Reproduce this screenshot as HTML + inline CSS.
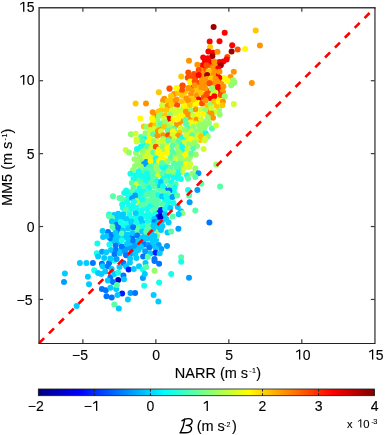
<!DOCTYPE html><html><head><meta charset="utf-8"><style>text{stroke:#000;stroke-width:0.12px;paint-order:stroke}html,body{margin:0;padding:0;background:#fff;width:385px;height:435px;overflow:hidden}</style></head><body><svg width="385" height="435" viewBox="0 0 385 435" style="position:absolute;left:0;top:0;will-change:transform;filter:blur(0.3px)">
<rect x="0" y="0" width="385" height="435" fill="#fff"/>
<g>
<circle cx="128.0" cy="198.0" r="3.0" fill="#14ffeb"/>
<circle cx="191.0" cy="94.0" r="3.0" fill="#ff9400"/>
<circle cx="157.0" cy="230.0" r="3.0" fill="#94ff6b"/>
<circle cx="136.0" cy="153.0" r="3.0" fill="#94ff6b"/>
<circle cx="209.0" cy="123.0" r="3.0" fill="#94ff6b"/>
<circle cx="111.0" cy="250.0" r="3.0" fill="#00ccff"/>
<circle cx="108.0" cy="232.0" r="3.0" fill="#0075ff"/>
<circle cx="131.0" cy="192.0" r="3.0" fill="#57ffa8"/>
<circle cx="185.0" cy="92.0" r="3.0" fill="#ffc700"/>
<circle cx="159.0" cy="189.0" r="3.0" fill="#57ffa8"/>
<circle cx="174.0" cy="192.0" r="3.0" fill="#14ffeb"/>
<circle cx="130.0" cy="248.0" r="3.0" fill="#009eff"/>
<circle cx="158.0" cy="200.0" r="3.0" fill="#57ffa8"/>
<circle cx="210.0" cy="98.0" r="3.0" fill="#ff0000"/>
<circle cx="219.0" cy="110.0" r="3.0" fill="#94ff6b"/>
<circle cx="171.0" cy="110.0" r="3.0" fill="#d1ff2e"/>
<circle cx="211.0" cy="93.0" r="3.0" fill="#d1ff2e"/>
<circle cx="181.0" cy="121.0" r="3.0" fill="#ff9400"/>
<circle cx="135.0" cy="166.0" r="3.0" fill="#94ff6b"/>
<circle cx="116.0" cy="250.0" r="3.0" fill="#0075ff"/>
<circle cx="142.0" cy="161.0" r="3.0" fill="#94ff6b"/>
<circle cx="182.0" cy="172.0" r="3.0" fill="#d1ff2e"/>
<circle cx="116.0" cy="224.0" r="3.0" fill="#0075ff"/>
<circle cx="162.0" cy="221.0" r="3.0" fill="#00ccff"/>
<circle cx="157.0" cy="120.0" r="3.0" fill="#94ff6b"/>
<circle cx="147.0" cy="201.0" r="3.0" fill="#57ffa8"/>
<circle cx="163.0" cy="178.0" r="3.0" fill="#14ffeb"/>
<circle cx="112.0" cy="241.0" r="3.0" fill="#00ccff"/>
<circle cx="141.0" cy="137.0" r="3.0" fill="#57ffa8"/>
<circle cx="114.0" cy="215.0" r="3.0" fill="#00ccff"/>
<circle cx="155.0" cy="198.0" r="3.0" fill="#57ffa8"/>
<circle cx="147.0" cy="166.0" r="3.0" fill="#57ffa8"/>
<circle cx="176.0" cy="155.0" r="3.0" fill="#94ff6b"/>
<circle cx="138.0" cy="179.0" r="3.0" fill="#57ffa8"/>
<circle cx="166.0" cy="144.0" r="3.0" fill="#d1ff2e"/>
<circle cx="122.0" cy="226.0" r="3.0" fill="#14ffeb"/>
<circle cx="144.0" cy="156.0" r="3.0" fill="#d1ff2e"/>
<circle cx="161.0" cy="167.0" r="3.0" fill="#14ffeb"/>
<circle cx="118.0" cy="242.0" r="3.0" fill="#00ccff"/>
<circle cx="184.0" cy="151.0" r="3.0" fill="#14ffeb"/>
<circle cx="144.0" cy="191.0" r="3.0" fill="#14ffeb"/>
<circle cx="137.0" cy="192.0" r="3.0" fill="#14ffeb"/>
<circle cx="166.0" cy="166.0" r="3.0" fill="#14ffeb"/>
<circle cx="165.0" cy="200.0" r="3.0" fill="#14ffeb"/>
<circle cx="178.0" cy="119.0" r="3.0" fill="#fffa00"/>
<circle cx="140.0" cy="204.0" r="3.0" fill="#57ffa8"/>
<circle cx="116.0" cy="219.0" r="3.0" fill="#00ccff"/>
<circle cx="161.0" cy="230.0" r="3.0" fill="#00ccff"/>
<circle cx="132.0" cy="237.0" r="3.0" fill="#0075ff"/>
<circle cx="224.0" cy="78.0" r="3.0" fill="#fffa00"/>
<circle cx="205.0" cy="69.0" r="3.0" fill="#ff4c00"/>
<circle cx="152.0" cy="157.0" r="3.0" fill="#d1ff2e"/>
<circle cx="190.0" cy="118.0" r="3.0" fill="#ff9400"/>
<circle cx="194.0" cy="74.0" r="3.0" fill="#ff4c00"/>
<circle cx="150.0" cy="192.0" r="3.0" fill="#57ffa8"/>
<circle cx="139.0" cy="197.0" r="3.0" fill="#14ffeb"/>
<circle cx="157.0" cy="209.0" r="3.0" fill="#57ffa8"/>
<circle cx="155.0" cy="162.0" r="3.0" fill="#14ffeb"/>
<circle cx="124.0" cy="237.0" r="3.0" fill="#00ccff"/>
<circle cx="205.0" cy="61.0" r="3.0" fill="#ff0000"/>
<circle cx="122.0" cy="218.0" r="3.0" fill="#00ccff"/>
<circle cx="163.0" cy="150.0" r="3.0" fill="#94ff6b"/>
<circle cx="151.0" cy="216.0" r="3.0" fill="#14ffeb"/>
<circle cx="204.0" cy="122.0" r="3.0" fill="#94ff6b"/>
<circle cx="119.0" cy="237.0" r="3.0" fill="#00ccff"/>
<circle cx="181.0" cy="154.0" r="3.0" fill="#94ff6b"/>
<circle cx="150.0" cy="236.0" r="3.0" fill="#00ccff"/>
<circle cx="153.0" cy="229.0" r="3.0" fill="#00ccff"/>
<circle cx="151.0" cy="144.0" r="3.0" fill="#d1ff2e"/>
<circle cx="200.0" cy="140.0" r="3.0" fill="#ffc700"/>
<circle cx="137.0" cy="217.0" r="3.0" fill="#14ffeb"/>
<circle cx="216.0" cy="65.0" r="3.0" fill="#ff9400"/>
<circle cx="207.0" cy="114.0" r="3.0" fill="#94ff6b"/>
<circle cx="187.0" cy="139.0" r="3.0" fill="#d1ff2e"/>
<circle cx="175.0" cy="125.0" r="3.0" fill="#ff9400"/>
<circle cx="123.0" cy="208.0" r="3.0" fill="#14ffeb"/>
<circle cx="184.0" cy="160.0" r="3.0" fill="#94ff6b"/>
<circle cx="200.0" cy="129.0" r="3.0" fill="#94ff6b"/>
<circle cx="219.0" cy="91.0" r="3.0" fill="#ff0000"/>
<circle cx="144.0" cy="145.0" r="3.0" fill="#14ffeb"/>
<circle cx="138.0" cy="245.0" r="3.0" fill="#00ccff"/>
<circle cx="130.0" cy="225.0" r="3.0" fill="#00ccff"/>
<circle cx="170.0" cy="175.0" r="3.0" fill="#14ffeb"/>
<circle cx="166.0" cy="189.0" r="3.0" fill="#0075ff"/>
<circle cx="218.0" cy="98.0" r="3.0" fill="#fffa00"/>
<circle cx="198.0" cy="83.0" r="3.0" fill="#ff4c00"/>
<circle cx="156.0" cy="240.0" r="3.0" fill="#00ccff"/>
<circle cx="145.0" cy="216.0" r="3.0" fill="#14ffeb"/>
<circle cx="143.0" cy="179.0" r="3.0" fill="#14ffeb"/>
<circle cx="145.0" cy="149.0" r="3.0" fill="#94ff6b"/>
<circle cx="136.0" cy="232.0" r="3.0" fill="#57ffa8"/>
<circle cx="151.0" cy="179.0" r="3.0" fill="#57ffa8"/>
<circle cx="206.0" cy="83.0" r="3.0" fill="#ff9400"/>
<circle cx="154.0" cy="169.0" r="3.0" fill="#94ff6b"/>
<circle cx="167.0" cy="206.0" r="3.0" fill="#14ffeb"/>
<circle cx="187.0" cy="108.0" r="3.0" fill="#fffa00"/>
<circle cx="159.0" cy="185.0" r="3.0" fill="#00ccff"/>
<circle cx="155.0" cy="115.0" r="3.0" fill="#ff9400"/>
<circle cx="171.0" cy="149.0" r="3.0" fill="#57ffa8"/>
<circle cx="177.0" cy="178.0" r="3.0" fill="#14ffeb"/>
<circle cx="181.0" cy="144.0" r="3.0" fill="#14ffeb"/>
<circle cx="130.0" cy="218.0" r="3.0" fill="#14ffeb"/>
<circle cx="176.0" cy="133.0" r="3.0" fill="#fffa00"/>
<circle cx="110.0" cy="238.0" r="3.0" fill="#0075ff"/>
<circle cx="210.0" cy="65.0" r="3.0" fill="#ff4c00"/>
<circle cx="159.0" cy="213.0" r="3.0" fill="#001aff"/>
<circle cx="180.0" cy="168.0" r="3.0" fill="#57ffa8"/>
<circle cx="192.0" cy="77.0" r="3.0" fill="#ff4c00"/>
<circle cx="177.0" cy="171.0" r="3.0" fill="#14ffeb"/>
<circle cx="209.0" cy="111.0" r="3.0" fill="#ff9400"/>
<circle cx="176.0" cy="144.0" r="3.0" fill="#94ff6b"/>
<circle cx="121.0" cy="250.0" r="3.0" fill="#00ccff"/>
<circle cx="124.0" cy="200.0" r="3.0" fill="#57ffa8"/>
<circle cx="133.0" cy="206.0" r="3.0" fill="#14ffeb"/>
<circle cx="217.0" cy="75.0" r="3.0" fill="#ff0000"/>
<circle cx="148.0" cy="184.0" r="3.0" fill="#57ffa8"/>
<circle cx="143.0" cy="241.0" r="3.0" fill="#00ccff"/>
<circle cx="143.0" cy="173.0" r="3.0" fill="#57ffa8"/>
<circle cx="127.0" cy="202.0" r="3.0" fill="#14ffeb"/>
<circle cx="162.0" cy="158.0" r="3.0" fill="#fffa00"/>
<circle cx="179.0" cy="113.0" r="3.0" fill="#d1ff2e"/>
<circle cx="199.0" cy="122.0" r="3.0" fill="#d1ff2e"/>
<circle cx="135.0" cy="250.0" r="3.0" fill="#00ccff"/>
<circle cx="192.0" cy="99.0" r="3.0" fill="#ffc700"/>
<circle cx="153.0" cy="206.0" r="3.0" fill="#14ffeb"/>
<circle cx="223.0" cy="92.0" r="3.0" fill="#ff9400"/>
<circle cx="185.0" cy="103.0" r="3.0" fill="#fffa00"/>
<circle cx="152.0" cy="195.0" r="3.0" fill="#57ffa8"/>
<circle cx="145.0" cy="176.0" r="3.0" fill="#14ffeb"/>
<circle cx="169.0" cy="199.0" r="3.0" fill="#14ffeb"/>
<circle cx="184.0" cy="115.0" r="3.0" fill="#fffa00"/>
<circle cx="159.0" cy="156.0" r="3.0" fill="#fffa00"/>
<circle cx="139.0" cy="226.0" r="3.0" fill="#57ffa8"/>
<circle cx="149.0" cy="176.0" r="3.0" fill="#14ffeb"/>
<circle cx="130.0" cy="242.0" r="3.0" fill="#00ccff"/>
<circle cx="115.0" cy="229.0" r="3.0" fill="#57ffa8"/>
<circle cx="149.0" cy="230.0" r="3.0" fill="#57ffa8"/>
<circle cx="139.0" cy="212.0" r="3.0" fill="#14ffeb"/>
<circle cx="171.0" cy="100.0" r="3.0" fill="#ffc700"/>
<circle cx="178.0" cy="162.0" r="3.0" fill="#57ffa8"/>
<circle cx="190.0" cy="157.0" r="3.0" fill="#94ff6b"/>
<circle cx="145.0" cy="236.0" r="3.0" fill="#00ccff"/>
<circle cx="215.0" cy="89.0" r="3.0" fill="#94ff6b"/>
<circle cx="159.0" cy="128.0" r="3.0" fill="#ff9400"/>
<circle cx="126.0" cy="248.0" r="3.0" fill="#009eff"/>
<circle cx="155.0" cy="173.0" r="3.0" fill="#57ffa8"/>
<circle cx="168.0" cy="125.0" r="3.0" fill="#94ff6b"/>
<circle cx="151.0" cy="220.0" r="3.0" fill="#14ffeb"/>
<circle cx="144.0" cy="164.0" r="3.0" fill="#009eff"/>
<circle cx="119.0" cy="231.0" r="3.0" fill="#0075ff"/>
<circle cx="170.0" cy="155.0" r="3.0" fill="#57ffa8"/>
<circle cx="187.0" cy="153.0" r="3.0" fill="#fffa00"/>
<circle cx="165.0" cy="175.0" r="3.0" fill="#14ffeb"/>
<circle cx="189.0" cy="134.0" r="3.0" fill="#d1ff2e"/>
<circle cx="174.0" cy="94.0" r="3.0" fill="#ff9400"/>
<circle cx="178.0" cy="93.0" r="3.0" fill="#ffc700"/>
<circle cx="193.0" cy="90.0" r="3.0" fill="#ff9400"/>
<circle cx="137.0" cy="149.0" r="3.0" fill="#14ffeb"/>
<circle cx="197.0" cy="146.0" r="3.0" fill="#94ff6b"/>
<circle cx="132.0" cy="198.0" r="3.0" fill="#009eff"/>
<circle cx="153.0" cy="122.0" r="3.0" fill="#fffa00"/>
<circle cx="182.0" cy="90.0" r="3.0" fill="#ff4c00"/>
<circle cx="208.0" cy="91.0" r="3.0" fill="#ff4c00"/>
<circle cx="128.0" cy="194.0" r="3.0" fill="#14ffeb"/>
<circle cx="107.0" cy="236.0" r="3.0" fill="#00ccff"/>
<circle cx="206.0" cy="125.0" r="3.0" fill="#94ff6b"/>
<circle cx="150.0" cy="203.0" r="3.0" fill="#57ffa8"/>
<circle cx="159.0" cy="227.0" r="3.0" fill="#00ccff"/>
<circle cx="154.0" cy="202.0" r="3.0" fill="#57ffa8"/>
<circle cx="112.0" cy="218.0" r="3.0" fill="#57ffa8"/>
<circle cx="144.0" cy="196.0" r="3.0" fill="#57ffa8"/>
<circle cx="149.0" cy="169.0" r="3.0" fill="#57ffa8"/>
<circle cx="171.0" cy="96.0" r="3.0" fill="#ffc700"/>
<circle cx="213.6" cy="27.1" r="3.0" fill="#9e0000"/>
<circle cx="224.7" cy="32.8" r="3.0" fill="#ff0000"/>
<circle cx="209.7" cy="41.6" r="3.0" fill="#ff0000"/>
<circle cx="219.5" cy="41.3" r="3.0" fill="#ff0000"/>
<circle cx="232.2" cy="45.2" r="3.0" fill="#ff0000"/>
<circle cx="231.6" cy="51.4" r="3.0" fill="#9e0000"/>
<circle cx="237.7" cy="49.4" r="3.0" fill="#ff4c00"/>
<circle cx="245.2" cy="49.1" r="3.0" fill="#fffa00"/>
<circle cx="210.1" cy="47.1" r="3.0" fill="#ffc700"/>
<circle cx="208.4" cy="51.4" r="3.0" fill="#ff0000"/>
<circle cx="213.0" cy="52.7" r="3.0" fill="#ff0000"/>
<circle cx="217.5" cy="51.7" r="3.0" fill="#ff9400"/>
<circle cx="212.3" cy="56.2" r="3.0" fill="#9e0000"/>
<circle cx="203.2" cy="57.5" r="3.0" fill="#ff0000"/>
<circle cx="207.8" cy="58.2" r="3.0" fill="#ff0000"/>
<circle cx="209.1" cy="61.4" r="3.0" fill="#ff0000"/>
<circle cx="227.3" cy="56.9" r="3.0" fill="#ff4c00"/>
<circle cx="226.6" cy="59.5" r="3.0" fill="#ff0000"/>
<circle cx="223.4" cy="61.4" r="3.0" fill="#ff0000"/>
<circle cx="219.5" cy="62.1" r="3.0" fill="#ff0000"/>
<circle cx="214.3" cy="61.4" r="3.0" fill="#ff9400"/>
<circle cx="220.8" cy="65.3" r="3.0" fill="#9e0000"/>
<circle cx="202.6" cy="65.3" r="3.0" fill="#ff0000"/>
<circle cx="206.5" cy="65.3" r="3.0" fill="#ff4c00"/>
<circle cx="213.0" cy="67.3" r="3.0" fill="#ff9400"/>
<circle cx="218.2" cy="68.6" r="3.0" fill="#ff0000"/>
<circle cx="200.6" cy="69.9" r="3.0" fill="#ff9400"/>
<circle cx="208.4" cy="71.2" r="3.0" fill="#ffc700"/>
<circle cx="214.3" cy="71.2" r="3.0" fill="#ff9400"/>
<circle cx="219.5" cy="71.8" r="3.0" fill="#ff9400"/>
<circle cx="233.8" cy="71.8" r="3.0" fill="#ff9400"/>
<circle cx="203.2" cy="74.4" r="3.0" fill="#ff9400"/>
<circle cx="207.1" cy="75.1" r="3.0" fill="#9e0000"/>
<circle cx="213.0" cy="75.1" r="3.0" fill="#ff9400"/>
<circle cx="219.2" cy="77.7" r="3.0" fill="#ff0000"/>
<circle cx="230.5" cy="77.0" r="3.0" fill="#ff9400"/>
<circle cx="227.3" cy="80.3" r="3.0" fill="#fffa00"/>
<circle cx="233.1" cy="80.3" r="3.0" fill="#94ff6b"/>
<circle cx="231.8" cy="83.5" r="3.0" fill="#94ff6b"/>
<circle cx="234.4" cy="82.2" r="3.0" fill="#94ff6b"/>
<circle cx="201.9" cy="79.0" r="3.0" fill="#ff9400"/>
<circle cx="207.1" cy="79.0" r="3.0" fill="#ff9400"/>
<circle cx="211.0" cy="78.3" r="3.0" fill="#ffc700"/>
<circle cx="215.6" cy="79.0" r="3.0" fill="#ff9400"/>
<circle cx="202.6" cy="84.2" r="3.0" fill="#ff9400"/>
<circle cx="209.7" cy="83.5" r="3.0" fill="#ff4c00"/>
<circle cx="214.3" cy="83.5" r="3.0" fill="#ff9400"/>
<circle cx="218.8" cy="82.2" r="3.0" fill="#ff4c00"/>
<circle cx="220.8" cy="84.8" r="3.0" fill="#fffa00"/>
<circle cx="203.9" cy="88.1" r="3.0" fill="#ff9400"/>
<circle cx="211.7" cy="88.1" r="3.0" fill="#d1ff2e"/>
<circle cx="218.2" cy="87.4" r="3.0" fill="#ff0000"/>
<circle cx="222.1" cy="88.7" r="3.0" fill="#ff9400"/>
<circle cx="189.0" cy="60.8" r="3.0" fill="#ff9400"/>
<circle cx="197.4" cy="64.7" r="3.0" fill="#ff9400"/>
<circle cx="198.7" cy="69.9" r="3.0" fill="#ff4c00"/>
<circle cx="188.3" cy="72.5" r="3.0" fill="#ff4c00"/>
<circle cx="181.2" cy="76.6" r="3.0" fill="#ffc700"/>
<circle cx="187.7" cy="77.7" r="3.0" fill="#ff4c00"/>
<circle cx="195.5" cy="77.7" r="3.0" fill="#ff4c00"/>
<circle cx="198.7" cy="75.1" r="3.0" fill="#ff0000"/>
<circle cx="190.3" cy="81.6" r="3.0" fill="#fffa00"/>
<circle cx="193.5" cy="84.8" r="3.0" fill="#ff0000"/>
<circle cx="182.5" cy="85.5" r="3.0" fill="#ff4c00"/>
<circle cx="169.5" cy="88.3" r="3.0" fill="#ff9400"/>
<circle cx="176.6" cy="88.1" r="3.0" fill="#fffa00"/>
<circle cx="188.3" cy="88.1" r="3.0" fill="#ff9400"/>
<circle cx="196.8" cy="87.4" r="3.0" fill="#ffc700"/>
<circle cx="169.5" cy="88.8" r="3.0" fill="#ff4c00"/>
<circle cx="176.6" cy="88.1" r="3.0" fill="#fffa00"/>
<circle cx="182.5" cy="85.8" r="3.0" fill="#ff4c00"/>
<circle cx="190.3" cy="82.6" r="3.0" fill="#fffa00"/>
<circle cx="189.0" cy="88.4" r="3.0" fill="#ff9400"/>
<circle cx="194.8" cy="81.3" r="3.0" fill="#ff4c00"/>
<circle cx="194.8" cy="85.2" r="3.0" fill="#ff9400"/>
<circle cx="197.4" cy="90.4" r="3.0" fill="#ffc700"/>
<circle cx="158.8" cy="92.3" r="3.0" fill="#ffc700"/>
<circle cx="164.3" cy="98.8" r="3.0" fill="#ff9400"/>
<circle cx="176.6" cy="99.5" r="3.0" fill="#ff9400"/>
<circle cx="181.8" cy="95.6" r="3.0" fill="#ffc700"/>
<circle cx="186.4" cy="98.2" r="3.0" fill="#ff9400"/>
<circle cx="196.8" cy="95.6" r="3.0" fill="#ff9400"/>
<circle cx="198.7" cy="99.5" r="3.0" fill="#ff0000"/>
<circle cx="201.9" cy="82.6" r="3.0" fill="#ff9400"/>
<circle cx="209.7" cy="83.2" r="3.0" fill="#ff4c00"/>
<circle cx="216.9" cy="81.3" r="3.0" fill="#ff9400"/>
<circle cx="221.4" cy="83.9" r="3.0" fill="#ff9400"/>
<circle cx="227.3" cy="81.3" r="3.0" fill="#fffa00"/>
<circle cx="233.1" cy="83.2" r="3.0" fill="#94ff6b"/>
<circle cx="231.2" cy="85.2" r="3.0" fill="#94ff6b"/>
<circle cx="201.3" cy="87.8" r="3.0" fill="#ff9400"/>
<circle cx="205.2" cy="88.4" r="3.0" fill="#ff9400"/>
<circle cx="211.7" cy="88.4" r="3.0" fill="#94ff6b"/>
<circle cx="218.2" cy="87.1" r="3.0" fill="#ff0000"/>
<circle cx="223.4" cy="86.5" r="3.0" fill="#ff9400"/>
<circle cx="201.3" cy="93.6" r="3.0" fill="#ffc700"/>
<circle cx="206.5" cy="94.3" r="3.0" fill="#ff4c00"/>
<circle cx="203.9" cy="97.5" r="3.0" fill="#ff4c00"/>
<circle cx="215.6" cy="93.0" r="3.0" fill="#d1ff2e"/>
<circle cx="214.3" cy="96.2" r="3.0" fill="#ff0000"/>
<circle cx="220.8" cy="94.9" r="3.0" fill="#ff4c00"/>
<circle cx="224.7" cy="96.2" r="3.0" fill="#94ff6b"/>
<circle cx="255.7" cy="30.6" r="3.0" fill="#ffc700"/>
<circle cx="259.9" cy="45.4" r="3.0" fill="#ff9400"/>
<circle cx="251.8" cy="83.1" r="3.0" fill="#ff9400"/>
<circle cx="113.0" cy="196.2" r="3.0" fill="#57ffa8"/>
<circle cx="119.5" cy="198.1" r="3.0" fill="#57ffa8"/>
<circle cx="118.2" cy="213.7" r="3.0" fill="#00ccff"/>
<circle cx="109.1" cy="214.4" r="3.0" fill="#14ffeb"/>
<circle cx="204.5" cy="140.3" r="3.0" fill="#d1ff2e"/>
<circle cx="203.6" cy="149.0" r="3.0" fill="#d1ff2e"/>
<circle cx="216.2" cy="164.4" r="3.0" fill="#94ff6b"/>
<circle cx="201.3" cy="183.8" r="3.0" fill="#57ffa8"/>
<circle cx="220.1" cy="186.4" r="3.0" fill="#57ffa8"/>
<circle cx="97.4" cy="243.6" r="3.0" fill="#14ffeb"/>
<circle cx="96.8" cy="253.3" r="3.0" fill="#14ffeb"/>
<circle cx="98.1" cy="256.6" r="3.0" fill="#00ccff"/>
<circle cx="79.9" cy="263.1" r="3.0" fill="#00ccff"/>
<circle cx="86.4" cy="263.1" r="3.0" fill="#00ccff"/>
<circle cx="92.9" cy="263.1" r="3.0" fill="#0075ff"/>
<circle cx="109.1" cy="216.3" r="3.0" fill="#57ffa8"/>
<circle cx="118.2" cy="215.6" r="3.0" fill="#00ccff"/>
<circle cx="101.9" cy="263.7" r="3.0" fill="#0075ff"/>
<circle cx="109.1" cy="263.1" r="3.0" fill="#0075ff"/>
<circle cx="114.3" cy="260.5" r="3.0" fill="#14ffeb"/>
<circle cx="123.4" cy="263.1" r="3.0" fill="#0075ff"/>
<circle cx="129.9" cy="262.4" r="3.0" fill="#00ccff"/>
<circle cx="145.5" cy="263.1" r="3.0" fill="#00ccff"/>
<circle cx="64.9" cy="273.4" r="3.0" fill="#00ccff"/>
<circle cx="64.0" cy="281.9" r="3.0" fill="#009eff"/>
<circle cx="87.9" cy="276.7" r="3.0" fill="#00ccff"/>
<circle cx="89.0" cy="284.2" r="3.0" fill="#00ccff"/>
<circle cx="76.6" cy="305.9" r="3.0" fill="#00ccff"/>
<circle cx="94.2" cy="270.2" r="3.0" fill="#14ffeb"/>
<circle cx="98.1" cy="273.1" r="3.0" fill="#00ccff"/>
<circle cx="102.6" cy="266.3" r="3.0" fill="#00ccff"/>
<circle cx="107.8" cy="266.3" r="3.0" fill="#0075ff"/>
<circle cx="111.7" cy="268.9" r="3.0" fill="#00ccff"/>
<circle cx="119.5" cy="266.9" r="3.0" fill="#00ccff"/>
<circle cx="126.0" cy="266.3" r="3.0" fill="#00ccff"/>
<circle cx="128.6" cy="269.5" r="3.0" fill="#001aff"/>
<circle cx="133.8" cy="268.9" r="3.0" fill="#00ccff"/>
<circle cx="139.0" cy="266.3" r="3.0" fill="#00ccff"/>
<circle cx="142.9" cy="269.5" r="3.0" fill="#14ffeb"/>
<circle cx="146.1" cy="266.9" r="3.0" fill="#57ffa8"/>
<circle cx="101.3" cy="274.1" r="3.0" fill="#00ccff"/>
<circle cx="105.2" cy="271.5" r="3.0" fill="#00ccff"/>
<circle cx="110.4" cy="277.3" r="3.0" fill="#0075ff"/>
<circle cx="114.3" cy="274.1" r="3.0" fill="#00ccff"/>
<circle cx="118.2" cy="272.8" r="3.0" fill="#14ffeb"/>
<circle cx="123.4" cy="275.4" r="3.0" fill="#0075ff"/>
<circle cx="118.2" cy="279.9" r="3.0" fill="#0000bd"/>
<circle cx="124.0" cy="279.3" r="3.0" fill="#00ccff"/>
<circle cx="107.8" cy="280.6" r="3.0" fill="#00ccff"/>
<circle cx="113.0" cy="281.9" r="3.0" fill="#0075ff"/>
<circle cx="142.9" cy="278.0" r="3.0" fill="#009eff"/>
<circle cx="144.8" cy="274.1" r="3.0" fill="#00ccff"/>
<circle cx="144.2" cy="285.8" r="3.0" fill="#14ffeb"/>
<circle cx="101.9" cy="289.0" r="3.0" fill="#0075ff"/>
<circle cx="105.8" cy="290.3" r="3.0" fill="#0075ff"/>
<circle cx="110.4" cy="287.7" r="3.0" fill="#00ccff"/>
<circle cx="116.2" cy="289.0" r="3.0" fill="#00ccff"/>
<circle cx="116.9" cy="285.1" r="3.0" fill="#57ffa8"/>
<circle cx="122.1" cy="293.6" r="3.0" fill="#001aff"/>
<circle cx="117.5" cy="294.9" r="3.0" fill="#00ccff"/>
<circle cx="130.5" cy="292.9" r="3.0" fill="#009eff"/>
<circle cx="135.1" cy="292.9" r="3.0" fill="#0075ff"/>
<circle cx="106.5" cy="296.2" r="3.0" fill="#0075ff"/>
<circle cx="111.7" cy="297.5" r="3.0" fill="#0075ff"/>
<circle cx="127.9" cy="299.4" r="3.0" fill="#00ccff"/>
<circle cx="114.3" cy="304.6" r="3.0" fill="#57ffa8"/>
<circle cx="118.8" cy="308.5" r="3.0" fill="#00ccff"/>
<circle cx="181.2" cy="257.2" r="3.0" fill="#57ffa8"/>
<circle cx="181.2" cy="261.8" r="3.0" fill="#14ffeb"/>
<circle cx="154.5" cy="261.1" r="3.0" fill="#0075ff"/>
<circle cx="159.1" cy="263.7" r="3.0" fill="#0075ff"/>
<circle cx="209.4" cy="222.4" r="3.0" fill="#0075ff"/>
<circle cx="154.5" cy="270.8" r="3.0" fill="#94ff6b"/>
<circle cx="171.2" cy="274.1" r="3.0" fill="#14ffeb"/>
<circle cx="189.0" cy="277.7" r="3.0" fill="#009eff"/>
<circle cx="159.1" cy="282.5" r="3.0" fill="#14ffeb"/>
<circle cx="153.6" cy="294.9" r="3.0" fill="#00ccff"/>
<circle cx="158.4" cy="301.4" r="3.0" fill="#00ccff"/>
<circle cx="135.6" cy="103.6" r="3.0" fill="#ffc700"/>
<circle cx="146.0" cy="103.4" r="3.0" fill="#ff9400"/>
<circle cx="152.7" cy="112.3" r="3.0" fill="#ff9400"/>
<circle cx="158.4" cy="111.4" r="3.0" fill="#ffc700"/>
<circle cx="159.0" cy="116.1" r="3.0" fill="#94ff6b"/>
<circle cx="140.3" cy="118.5" r="3.0" fill="#fffa00"/>
<circle cx="152.2" cy="118.2" r="3.0" fill="#fffa00"/>
<circle cx="143.9" cy="126.5" r="3.0" fill="#ffc700"/>
<circle cx="146.5" cy="126.8" r="3.0" fill="#94ff6b"/>
<circle cx="151.2" cy="125.5" r="3.0" fill="#ff9400"/>
<circle cx="155.3" cy="125.5" r="3.0" fill="#ffc700"/>
<circle cx="158.4" cy="124.4" r="3.0" fill="#94ff6b"/>
<circle cx="150.1" cy="130.1" r="3.0" fill="#d1ff2e"/>
<circle cx="154.3" cy="129.1" r="3.0" fill="#d1ff2e"/>
<circle cx="157.9" cy="131.2" r="3.0" fill="#ff9400"/>
<circle cx="130.9" cy="134.3" r="3.0" fill="#94ff6b"/>
<circle cx="135.6" cy="133.8" r="3.0" fill="#d1ff2e"/>
<circle cx="145.5" cy="133.2" r="3.0" fill="#94ff6b"/>
<circle cx="150.1" cy="134.8" r="3.0" fill="#d1ff2e"/>
<circle cx="153.2" cy="134.3" r="3.0" fill="#57ffa8"/>
<circle cx="157.4" cy="135.8" r="3.0" fill="#ff9400"/>
<circle cx="144.9" cy="139.0" r="3.0" fill="#14ffeb"/>
<circle cx="150.1" cy="139.0" r="3.0" fill="#fffa00"/>
<circle cx="136.6" cy="139.5" r="3.0" fill="#d1ff2e"/>
<circle cx="163.1" cy="100.5" r="3.0" fill="#ff9400"/>
<circle cx="167.8" cy="101.0" r="3.0" fill="#ffc700"/>
<circle cx="175.6" cy="100.5" r="3.0" fill="#ff9400"/>
<circle cx="181.8" cy="101.6" r="3.0" fill="#ffc700"/>
<circle cx="188.1" cy="100.5" r="3.0" fill="#ff9400"/>
<circle cx="194.3" cy="101.6" r="3.0" fill="#ffc700"/>
<circle cx="198.4" cy="103.1" r="3.0" fill="#fffa00"/>
<circle cx="162.1" cy="105.2" r="3.0" fill="#d1ff2e"/>
<circle cx="167.8" cy="105.7" r="3.0" fill="#ff9400"/>
<circle cx="171.4" cy="104.7" r="3.0" fill="#ffc700"/>
<circle cx="177.1" cy="105.2" r="3.0" fill="#ff4c00"/>
<circle cx="183.9" cy="106.2" r="3.0" fill="#fffa00"/>
<circle cx="190.1" cy="105.2" r="3.0" fill="#ffc700"/>
<circle cx="195.3" cy="104.7" r="3.0" fill="#fffa00"/>
<circle cx="161.0" cy="110.4" r="3.0" fill="#ffc700"/>
<circle cx="166.2" cy="109.9" r="3.0" fill="#ffc700"/>
<circle cx="175.6" cy="109.9" r="3.0" fill="#d1ff2e"/>
<circle cx="180.8" cy="109.4" r="3.0" fill="#d1ff2e"/>
<circle cx="186.0" cy="111.4" r="3.0" fill="#ff9400"/>
<circle cx="191.2" cy="110.4" r="3.0" fill="#94ff6b"/>
<circle cx="195.8" cy="109.4" r="3.0" fill="#ff9400"/>
<circle cx="161.0" cy="115.1" r="3.0" fill="#94ff6b"/>
<circle cx="165.2" cy="115.6" r="3.0" fill="#ffc700"/>
<circle cx="170.4" cy="114.5" r="3.0" fill="#94ff6b"/>
<circle cx="175.6" cy="113.5" r="3.0" fill="#d1ff2e"/>
<circle cx="180.8" cy="116.1" r="3.0" fill="#fffa00"/>
<circle cx="188.1" cy="114.5" r="3.0" fill="#ff9400"/>
<circle cx="193.2" cy="115.6" r="3.0" fill="#d1ff2e"/>
<circle cx="197.9" cy="114.5" r="3.0" fill="#fffa00"/>
<circle cx="168.8" cy="118.7" r="3.0" fill="#ff0000"/>
<circle cx="164.2" cy="119.2" r="3.0" fill="#d1ff2e"/>
<circle cx="173.5" cy="119.2" r="3.0" fill="#fffa00"/>
<circle cx="185.5" cy="119.7" r="3.0" fill="#57ffa8"/>
<circle cx="191.2" cy="122.3" r="3.0" fill="#fffa00"/>
<circle cx="196.4" cy="119.7" r="3.0" fill="#ff9400"/>
<circle cx="161.0" cy="123.4" r="3.0" fill="#57ffa8"/>
<circle cx="165.2" cy="122.3" r="3.0" fill="#94ff6b"/>
<circle cx="171.4" cy="123.9" r="3.0" fill="#d1ff2e"/>
<circle cx="178.7" cy="124.9" r="3.0" fill="#ff9400"/>
<circle cx="186.0" cy="123.9" r="3.0" fill="#57ffa8"/>
<circle cx="195.3" cy="123.4" r="3.0" fill="#fffa00"/>
<circle cx="199.0" cy="125.5" r="3.0" fill="#94ff6b"/>
<circle cx="164.2" cy="127.0" r="3.0" fill="#ffc700"/>
<circle cx="169.4" cy="128.1" r="3.0" fill="#94ff6b"/>
<circle cx="174.0" cy="129.1" r="3.0" fill="#57ffa8"/>
<circle cx="180.8" cy="128.1" r="3.0" fill="#d1ff2e"/>
<circle cx="188.1" cy="128.1" r="3.0" fill="#57ffa8"/>
<circle cx="193.2" cy="127.0" r="3.0" fill="#94ff6b"/>
<circle cx="161.0" cy="131.2" r="3.0" fill="#d1ff2e"/>
<circle cx="167.8" cy="130.6" r="3.0" fill="#57ffa8"/>
<circle cx="173.0" cy="131.2" r="3.0" fill="#fffa00"/>
<circle cx="179.7" cy="132.7" r="3.0" fill="#ffc700"/>
<circle cx="184.9" cy="130.1" r="3.0" fill="#94ff6b"/>
<circle cx="191.2" cy="131.2" r="3.0" fill="#d1ff2e"/>
<circle cx="196.9" cy="131.2" r="3.0" fill="#94ff6b"/>
<circle cx="163.1" cy="135.3" r="3.0" fill="#ff9400"/>
<circle cx="168.3" cy="135.3" r="3.0" fill="#ff4c00"/>
<circle cx="172.5" cy="135.3" r="3.0" fill="#d1ff2e"/>
<circle cx="178.2" cy="135.8" r="3.0" fill="#ff9400"/>
<circle cx="182.3" cy="137.4" r="3.0" fill="#14ffeb"/>
<circle cx="186.0" cy="135.3" r="3.0" fill="#d1ff2e"/>
<circle cx="192.2" cy="135.3" r="3.0" fill="#57ffa8"/>
<circle cx="197.9" cy="135.3" r="3.0" fill="#d1ff2e"/>
<circle cx="163.1" cy="139.0" r="3.0" fill="#94ff6b"/>
<circle cx="169.4" cy="139.0" r="3.0" fill="#ff9400"/>
<circle cx="174.5" cy="139.0" r="3.0" fill="#d1ff2e"/>
<circle cx="191.2" cy="139.0" r="3.0" fill="#fffa00"/>
<circle cx="196.4" cy="139.0" r="3.0" fill="#d1ff2e"/>
<circle cx="202.1" cy="103.6" r="3.0" fill="#ff4c00"/>
<circle cx="205.7" cy="100.5" r="3.0" fill="#ff9400"/>
<circle cx="207.3" cy="106.2" r="3.0" fill="#ffc700"/>
<circle cx="210.4" cy="104.2" r="3.0" fill="#94ff6b"/>
<circle cx="214.0" cy="101.6" r="3.0" fill="#ffc700"/>
<circle cx="216.6" cy="105.7" r="3.0" fill="#ffc700"/>
<circle cx="218.7" cy="101.6" r="3.0" fill="#fffa00"/>
<circle cx="222.9" cy="101.6" r="3.0" fill="#ff9400"/>
<circle cx="222.3" cy="105.2" r="3.0" fill="#ffc700"/>
<circle cx="233.8" cy="103.9" r="3.0" fill="#d1ff2e"/>
<circle cx="201.0" cy="109.4" r="3.0" fill="#d1ff2e"/>
<circle cx="205.2" cy="109.9" r="3.0" fill="#94ff6b"/>
<circle cx="211.4" cy="108.3" r="3.0" fill="#d1ff2e"/>
<circle cx="214.5" cy="111.9" r="3.0" fill="#d1ff2e"/>
<circle cx="211.4" cy="113.5" r="3.0" fill="#ff9400"/>
<circle cx="213.0" cy="117.7" r="3.0" fill="#ff9400"/>
<circle cx="219.7" cy="114.5" r="3.0" fill="#94ff6b"/>
<circle cx="203.1" cy="114.0" r="3.0" fill="#fffa00"/>
<circle cx="207.8" cy="117.7" r="3.0" fill="#94ff6b"/>
<circle cx="201.0" cy="119.2" r="3.0" fill="#d1ff2e"/>
<circle cx="201.6" cy="124.9" r="3.0" fill="#94ff6b"/>
<circle cx="204.2" cy="128.1" r="3.0" fill="#94ff6b"/>
<circle cx="211.9" cy="128.6" r="3.0" fill="#57ffa8"/>
<circle cx="216.1" cy="125.5" r="3.0" fill="#d1ff2e"/>
<circle cx="202.1" cy="133.2" r="3.0" fill="#94ff6b"/>
<circle cx="205.7" cy="133.2" r="3.0" fill="#14ffeb"/>
<circle cx="207.8" cy="136.4" r="3.0" fill="#94ff6b"/>
<circle cx="201.0" cy="136.4" r="3.0" fill="#ffc700"/>
<circle cx="205.2" cy="139.0" r="3.0" fill="#d1ff2e"/>
<circle cx="136.6" cy="141.6" r="3.0" fill="#d1ff2e"/>
<circle cx="142.3" cy="141.0" r="3.0" fill="#57ffa8"/>
<circle cx="148.1" cy="141.6" r="3.0" fill="#fffa00"/>
<circle cx="154.3" cy="141.0" r="3.0" fill="#94ff6b"/>
<circle cx="158.4" cy="142.1" r="3.0" fill="#d1ff2e"/>
<circle cx="140.8" cy="146.8" r="3.0" fill="#14ffeb"/>
<circle cx="147.5" cy="146.2" r="3.0" fill="#57ffa8"/>
<circle cx="151.2" cy="147.8" r="3.0" fill="#d1ff2e"/>
<circle cx="155.8" cy="146.8" r="3.0" fill="#ff4c00"/>
<circle cx="159.0" cy="149.4" r="3.0" fill="#fffa00"/>
<circle cx="125.7" cy="149.9" r="3.0" fill="#d1ff2e"/>
<circle cx="128.8" cy="152.5" r="3.0" fill="#94ff6b"/>
<circle cx="142.3" cy="151.4" r="3.0" fill="#94ff6b"/>
<circle cx="148.1" cy="151.9" r="3.0" fill="#d1ff2e"/>
<circle cx="153.2" cy="152.5" r="3.0" fill="#57ffa8"/>
<circle cx="157.4" cy="153.0" r="3.0" fill="#fffa00"/>
<circle cx="134.5" cy="159.2" r="3.0" fill="#94ff6b"/>
<circle cx="139.7" cy="157.1" r="3.0" fill="#94ff6b"/>
<circle cx="137.7" cy="162.3" r="3.0" fill="#94ff6b"/>
<circle cx="146.5" cy="161.8" r="3.0" fill="#009eff"/>
<circle cx="148.1" cy="156.6" r="3.0" fill="#d1ff2e"/>
<circle cx="150.6" cy="161.3" r="3.0" fill="#fffa00"/>
<circle cx="155.8" cy="158.2" r="3.0" fill="#14ffeb"/>
<circle cx="159.0" cy="160.8" r="3.0" fill="#fffa00"/>
<circle cx="140.8" cy="166.5" r="3.0" fill="#94ff6b"/>
<circle cx="151.2" cy="166.5" r="3.0" fill="#57ffa8"/>
<circle cx="156.4" cy="166.0" r="3.0" fill="#94ff6b"/>
<circle cx="133.0" cy="170.1" r="3.0" fill="#94ff6b"/>
<circle cx="138.7" cy="171.2" r="3.0" fill="#14ffeb"/>
<circle cx="144.9" cy="170.1" r="3.0" fill="#57ffa8"/>
<circle cx="151.2" cy="172.2" r="3.0" fill="#57ffa8"/>
<circle cx="157.4" cy="170.1" r="3.0" fill="#94ff6b"/>
<circle cx="130.4" cy="173.8" r="3.0" fill="#14ffeb"/>
<circle cx="135.6" cy="175.3" r="3.0" fill="#14ffeb"/>
<circle cx="140.8" cy="175.8" r="3.0" fill="#14ffeb"/>
<circle cx="147.0" cy="173.2" r="3.0" fill="#14ffeb"/>
<circle cx="153.2" cy="175.8" r="3.0" fill="#57ffa8"/>
<circle cx="158.4" cy="175.3" r="3.0" fill="#d1ff2e"/>
<circle cx="133.5" cy="179.0" r="3.0" fill="#14ffeb"/>
<circle cx="147.0" cy="179.0" r="3.0" fill="#14ffeb"/>
<circle cx="155.3" cy="179.5" r="3.0" fill="#57ffa8"/>
<circle cx="163.1" cy="141.0" r="3.0" fill="#d1ff2e"/>
<circle cx="168.3" cy="140.5" r="3.0" fill="#57ffa8"/>
<circle cx="173.5" cy="141.6" r="3.0" fill="#94ff6b"/>
<circle cx="178.7" cy="141.0" r="3.0" fill="#57ffa8"/>
<circle cx="184.9" cy="142.1" r="3.0" fill="#d1ff2e"/>
<circle cx="189.1" cy="144.2" r="3.0" fill="#94ff6b"/>
<circle cx="194.3" cy="143.1" r="3.0" fill="#94ff6b"/>
<circle cx="162.1" cy="146.2" r="3.0" fill="#94ff6b"/>
<circle cx="167.3" cy="148.3" r="3.0" fill="#fffa00"/>
<circle cx="172.5" cy="145.7" r="3.0" fill="#57ffa8"/>
<circle cx="177.7" cy="147.3" r="3.0" fill="#94ff6b"/>
<circle cx="182.3" cy="147.3" r="3.0" fill="#14ffeb"/>
<circle cx="187.5" cy="148.8" r="3.0" fill="#d1ff2e"/>
<circle cx="193.2" cy="148.3" r="3.0" fill="#57ffa8"/>
<circle cx="162.1" cy="154.5" r="3.0" fill="#fffa00"/>
<circle cx="166.8" cy="153.5" r="3.0" fill="#fffa00"/>
<circle cx="173.0" cy="151.9" r="3.0" fill="#57ffa8"/>
<circle cx="178.2" cy="151.4" r="3.0" fill="#94ff6b"/>
<circle cx="184.9" cy="155.6" r="3.0" fill="#fffa00"/>
<circle cx="191.2" cy="153.5" r="3.0" fill="#57ffa8"/>
<circle cx="195.8" cy="154.5" r="3.0" fill="#94ff6b"/>
<circle cx="165.2" cy="159.7" r="3.0" fill="#fffa00"/>
<circle cx="170.9" cy="158.2" r="3.0" fill="#57ffa8"/>
<circle cx="175.6" cy="159.2" r="3.0" fill="#d1ff2e"/>
<circle cx="180.8" cy="158.2" r="3.0" fill="#94ff6b"/>
<circle cx="188.1" cy="159.7" r="3.0" fill="#94ff6b"/>
<circle cx="162.1" cy="162.9" r="3.0" fill="#57ffa8"/>
<circle cx="167.8" cy="161.8" r="3.0" fill="#94ff6b"/>
<circle cx="174.0" cy="163.4" r="3.0" fill="#57ffa8"/>
<circle cx="180.8" cy="163.9" r="3.0" fill="#57ffa8"/>
<circle cx="186.0" cy="163.9" r="3.0" fill="#fffa00"/>
<circle cx="190.1" cy="163.9" r="3.0" fill="#d1ff2e"/>
<circle cx="164.2" cy="169.6" r="3.0" fill="#14ffeb"/>
<circle cx="170.4" cy="168.1" r="3.0" fill="#57ffa8"/>
<circle cx="176.6" cy="167.0" r="3.0" fill="#57ffa8"/>
<circle cx="183.9" cy="168.1" r="3.0" fill="#d1ff2e"/>
<circle cx="189.1" cy="167.0" r="3.0" fill="#d1ff2e"/>
<circle cx="195.3" cy="168.6" r="3.0" fill="#94ff6b"/>
<circle cx="198.4" cy="173.2" r="3.0" fill="#009eff"/>
<circle cx="162.1" cy="173.2" r="3.0" fill="#57ffa8"/>
<circle cx="168.3" cy="171.2" r="3.0" fill="#94ff6b"/>
<circle cx="173.5" cy="172.2" r="3.0" fill="#94ff6b"/>
<circle cx="178.2" cy="174.3" r="3.0" fill="#14ffeb"/>
<circle cx="187.0" cy="175.3" r="3.0" fill="#14ffeb"/>
<circle cx="192.2" cy="173.8" r="3.0" fill="#94ff6b"/>
<circle cx="195.3" cy="176.9" r="3.0" fill="#57ffa8"/>
<circle cx="167.3" cy="177.4" r="3.0" fill="#14ffeb"/>
<circle cx="173.5" cy="177.4" r="3.0" fill="#14ffeb"/>
<circle cx="180.8" cy="179.0" r="3.0" fill="#14ffeb"/>
<circle cx="188.1" cy="178.4" r="3.0" fill="#57ffa8"/>
<circle cx="131.9" cy="183.1" r="3.0" fill="#57ffa8"/>
<circle cx="136.6" cy="184.7" r="3.0" fill="#d1ff2e"/>
<circle cx="140.8" cy="182.1" r="3.0" fill="#57ffa8"/>
<circle cx="146.0" cy="181.0" r="3.0" fill="#14ffeb"/>
<circle cx="151.2" cy="182.6" r="3.0" fill="#57ffa8"/>
<circle cx="157.4" cy="181.6" r="3.0" fill="#14ffeb"/>
<circle cx="126.2" cy="190.4" r="3.0" fill="#14ffeb"/>
<circle cx="124.2" cy="193.0" r="3.0" fill="#14ffeb"/>
<circle cx="133.5" cy="187.8" r="3.0" fill="#57ffa8"/>
<circle cx="139.7" cy="188.3" r="3.0" fill="#14ffeb"/>
<circle cx="143.9" cy="186.2" r="3.0" fill="#57ffa8"/>
<circle cx="149.1" cy="187.8" r="3.0" fill="#14ffeb"/>
<circle cx="154.3" cy="186.2" r="3.0" fill="#57ffa8"/>
<circle cx="135.1" cy="195.6" r="3.0" fill="#009eff"/>
<circle cx="140.8" cy="193.5" r="3.0" fill="#14ffeb"/>
<circle cx="147.0" cy="194.5" r="3.0" fill="#57ffa8"/>
<circle cx="154.3" cy="192.5" r="3.0" fill="#57ffa8"/>
<circle cx="158.4" cy="195.1" r="3.0" fill="#14ffeb"/>
<circle cx="121.0" cy="198.2" r="3.0" fill="#57ffa8"/>
<circle cx="136.6" cy="201.3" r="3.0" fill="#d1ff2e"/>
<circle cx="142.3" cy="199.7" r="3.0" fill="#14ffeb"/>
<circle cx="151.2" cy="199.7" r="3.0" fill="#57ffa8"/>
<circle cx="122.1" cy="204.4" r="3.0" fill="#14ffeb"/>
<circle cx="128.8" cy="204.9" r="3.0" fill="#14ffeb"/>
<circle cx="134.0" cy="201.8" r="3.0" fill="#14ffeb"/>
<circle cx="143.9" cy="204.9" r="3.0" fill="#57ffa8"/>
<circle cx="149.6" cy="206.5" r="3.0" fill="#14ffeb"/>
<circle cx="156.4" cy="204.4" r="3.0" fill="#57ffa8"/>
<circle cx="126.2" cy="210.1" r="3.0" fill="#57ffa8"/>
<circle cx="131.4" cy="209.1" r="3.0" fill="#14ffeb"/>
<circle cx="136.6" cy="208.1" r="3.0" fill="#14ffeb"/>
<circle cx="141.8" cy="210.1" r="3.0" fill="#14ffeb"/>
<circle cx="147.0" cy="209.1" r="3.0" fill="#14ffeb"/>
<circle cx="153.2" cy="210.1" r="3.0" fill="#57ffa8"/>
<circle cx="123.1" cy="214.3" r="3.0" fill="#00ccff"/>
<circle cx="129.4" cy="214.3" r="3.0" fill="#14ffeb"/>
<circle cx="135.6" cy="213.2" r="3.0" fill="#00ccff"/>
<circle cx="141.8" cy="214.3" r="3.0" fill="#14ffeb"/>
<circle cx="148.1" cy="213.2" r="3.0" fill="#14ffeb"/>
<circle cx="155.3" cy="214.3" r="3.0" fill="#14ffeb"/>
<circle cx="158.4" cy="216.9" r="3.0" fill="#001aff"/>
<circle cx="126.2" cy="219.0" r="3.0" fill="#00ccff"/>
<circle cx="133.5" cy="218.4" r="3.0" fill="#14ffeb"/>
<circle cx="140.8" cy="219.0" r="3.0" fill="#00ccff"/>
<circle cx="148.1" cy="218.4" r="3.0" fill="#14ffeb"/>
<circle cx="154.3" cy="219.0" r="3.0" fill="#00ccff"/>
<circle cx="161.0" cy="182.1" r="3.0" fill="#00ccff"/>
<circle cx="166.2" cy="181.0" r="3.0" fill="#57ffa8"/>
<circle cx="171.4" cy="182.1" r="3.0" fill="#14ffeb"/>
<circle cx="175.6" cy="184.2" r="3.0" fill="#57ffa8"/>
<circle cx="163.1" cy="186.2" r="3.0" fill="#14ffeb"/>
<circle cx="169.4" cy="186.2" r="3.0" fill="#57ffa8"/>
<circle cx="174.5" cy="187.3" r="3.0" fill="#14ffeb"/>
<circle cx="169.4" cy="190.4" r="3.0" fill="#0075ff"/>
<circle cx="163.1" cy="191.4" r="3.0" fill="#57ffa8"/>
<circle cx="167.8" cy="193.5" r="3.0" fill="#57ffa8"/>
<circle cx="162.1" cy="196.6" r="3.0" fill="#00ccff"/>
<circle cx="166.2" cy="196.1" r="3.0" fill="#14ffeb"/>
<circle cx="172.5" cy="197.1" r="3.0" fill="#009eff"/>
<circle cx="177.1" cy="195.6" r="3.0" fill="#57ffa8"/>
<circle cx="188.1" cy="189.9" r="3.0" fill="#14ffeb"/>
<circle cx="197.4" cy="189.9" r="3.0" fill="#009eff"/>
<circle cx="189.1" cy="195.6" r="3.0" fill="#57ffa8"/>
<circle cx="189.6" cy="202.3" r="3.0" fill="#009eff"/>
<circle cx="162.1" cy="203.9" r="3.0" fill="#57ffa8"/>
<circle cx="168.3" cy="202.3" r="3.0" fill="#14ffeb"/>
<circle cx="173.5" cy="202.9" r="3.0" fill="#14ffeb"/>
<circle cx="177.7" cy="207.0" r="3.0" fill="#00ccff"/>
<circle cx="180.8" cy="211.2" r="3.0" fill="#00ccff"/>
<circle cx="182.3" cy="213.2" r="3.0" fill="#94ff6b"/>
<circle cx="161.0" cy="210.1" r="3.0" fill="#001aff"/>
<circle cx="165.2" cy="209.1" r="3.0" fill="#14ffeb"/>
<circle cx="170.4" cy="208.1" r="3.0" fill="#00ccff"/>
<circle cx="195.3" cy="210.6" r="3.0" fill="#57ffa8"/>
<circle cx="161.0" cy="216.4" r="3.0" fill="#0000bd"/>
<circle cx="165.2" cy="214.3" r="3.0" fill="#00ccff"/>
<circle cx="172.5" cy="216.4" r="3.0" fill="#57ffa8"/>
<circle cx="178.7" cy="214.3" r="3.0" fill="#00ccff"/>
<circle cx="166.2" cy="219.0" r="3.0" fill="#00ccff"/>
<circle cx="111.9" cy="221.6" r="3.0" fill="#00ccff"/>
<circle cx="112.5" cy="226.8" r="3.0" fill="#57ffa8"/>
<circle cx="120.8" cy="222.1" r="3.0" fill="#14ffeb"/>
<circle cx="126.0" cy="224.2" r="3.0" fill="#14ffeb"/>
<circle cx="131.2" cy="221.6" r="3.0" fill="#00ccff"/>
<circle cx="136.4" cy="223.1" r="3.0" fill="#14ffeb"/>
<circle cx="118.2" cy="227.8" r="3.0" fill="#0075ff"/>
<circle cx="122.9" cy="230.4" r="3.0" fill="#00ccff"/>
<circle cx="128.1" cy="228.3" r="3.0" fill="#00ccff"/>
<circle cx="133.2" cy="227.3" r="3.0" fill="#0075ff"/>
<circle cx="138.4" cy="229.4" r="3.0" fill="#57ffa8"/>
<circle cx="102.6" cy="230.9" r="3.0" fill="#00ccff"/>
<circle cx="103.1" cy="237.1" r="3.0" fill="#00ccff"/>
<circle cx="111.9" cy="235.1" r="3.0" fill="#0075ff"/>
<circle cx="115.6" cy="233.0" r="3.0" fill="#00ccff"/>
<circle cx="121.8" cy="233.5" r="3.0" fill="#57ffa8"/>
<circle cx="127.0" cy="234.5" r="3.0" fill="#00ccff"/>
<circle cx="132.2" cy="233.0" r="3.0" fill="#00ccff"/>
<circle cx="137.4" cy="235.6" r="3.0" fill="#0075ff"/>
<circle cx="109.4" cy="244.4" r="3.0" fill="#14ffeb"/>
<circle cx="115.6" cy="238.7" r="3.0" fill="#00ccff"/>
<circle cx="121.8" cy="240.3" r="3.0" fill="#14ffeb"/>
<circle cx="128.1" cy="239.2" r="3.0" fill="#00ccff"/>
<circle cx="133.2" cy="240.8" r="3.0" fill="#0075ff"/>
<circle cx="138.4" cy="240.8" r="3.0" fill="#00ccff"/>
<circle cx="115.6" cy="245.5" r="3.0" fill="#0075ff"/>
<circle cx="121.8" cy="246.5" r="3.0" fill="#0075ff"/>
<circle cx="127.0" cy="243.9" r="3.0" fill="#00ccff"/>
<circle cx="134.3" cy="246.0" r="3.0" fill="#009eff"/>
<circle cx="138.4" cy="250.1" r="3.0" fill="#00ccff"/>
<circle cx="102.1" cy="251.7" r="3.0" fill="#009eff"/>
<circle cx="106.2" cy="252.2" r="3.0" fill="#00ccff"/>
<circle cx="114.5" cy="254.3" r="3.0" fill="#0075ff"/>
<circle cx="119.7" cy="253.2" r="3.0" fill="#00ccff"/>
<circle cx="124.9" cy="251.2" r="3.0" fill="#009eff"/>
<circle cx="126.0" cy="255.3" r="3.0" fill="#0075ff"/>
<circle cx="131.2" cy="253.2" r="3.0" fill="#009eff"/>
<circle cx="135.3" cy="254.3" r="3.0" fill="#00ccff"/>
<circle cx="104.2" cy="257.9" r="3.0" fill="#00ccff"/>
<circle cx="110.4" cy="258.4" r="3.0" fill="#00ccff"/>
<circle cx="116.6" cy="259.0" r="3.0" fill="#009eff"/>
<circle cx="130.1" cy="258.4" r="3.0" fill="#00ccff"/>
<circle cx="136.4" cy="257.9" r="3.0" fill="#00ccff"/>
<circle cx="142.1" cy="222.1" r="3.0" fill="#00ccff"/>
<circle cx="147.8" cy="221.6" r="3.0" fill="#14ffeb"/>
<circle cx="154.5" cy="222.1" r="3.0" fill="#0075ff"/>
<circle cx="158.2" cy="223.1" r="3.0" fill="#00ccff"/>
<circle cx="168.6" cy="222.6" r="3.0" fill="#00ccff"/>
<circle cx="143.1" cy="226.2" r="3.0" fill="#14ffeb"/>
<circle cx="148.3" cy="226.2" r="3.0" fill="#57ffa8"/>
<circle cx="153.5" cy="225.2" r="3.0" fill="#00ccff"/>
<circle cx="162.3" cy="226.2" r="3.0" fill="#00ccff"/>
<circle cx="178.4" cy="228.8" r="3.0" fill="#009eff"/>
<circle cx="167.5" cy="232.5" r="3.0" fill="#00ccff"/>
<circle cx="171.2" cy="231.4" r="3.0" fill="#57ffa8"/>
<circle cx="142.1" cy="231.4" r="3.0" fill="#00ccff"/>
<circle cx="146.2" cy="231.9" r="3.0" fill="#57ffa8"/>
<circle cx="151.4" cy="232.5" r="3.0" fill="#00ccff"/>
<circle cx="157.1" cy="235.6" r="3.0" fill="#94ff6b"/>
<circle cx="154.5" cy="236.1" r="3.0" fill="#00ccff"/>
<circle cx="142.1" cy="237.7" r="3.0" fill="#00ccff"/>
<circle cx="147.3" cy="238.7" r="3.0" fill="#00ccff"/>
<circle cx="152.5" cy="240.8" r="3.0" fill="#00ccff"/>
<circle cx="144.2" cy="244.4" r="3.0" fill="#0075ff"/>
<circle cx="148.3" cy="244.9" r="3.0" fill="#009eff"/>
<circle cx="153.5" cy="245.5" r="3.0" fill="#00ccff"/>
<circle cx="158.7" cy="244.9" r="3.0" fill="#009eff"/>
<circle cx="161.3" cy="249.1" r="3.0" fill="#009eff"/>
<circle cx="167.0" cy="246.0" r="3.0" fill="#009eff"/>
<circle cx="149.4" cy="247.5" r="3.0" fill="#0075ff"/>
<circle cx="155.6" cy="248.1" r="3.0" fill="#00ccff"/>
<circle cx="141.0" cy="247.0" r="3.0" fill="#00ccff"/>
<circle cx="145.2" cy="251.2" r="3.0" fill="#009eff"/>
<circle cx="150.4" cy="253.2" r="3.0" fill="#00ccff"/>
<circle cx="155.6" cy="252.7" r="3.0" fill="#001aff"/>
<circle cx="159.7" cy="253.2" r="3.0" fill="#00ccff"/>
<circle cx="143.1" cy="256.4" r="3.0" fill="#0075ff"/>
<circle cx="147.8" cy="256.9" r="3.0" fill="#57ffa8"/>
<circle cx="154.5" cy="259.0" r="3.0" fill="#0075ff"/>
</g>
<line x1="39.1" y1="343.2" x2="374.8" y2="7.8" stroke="#f00" stroke-width="2.6" stroke-dasharray="7.1 6.84" stroke-dashoffset="0"/>
<line x1="39.1" y1="7.8" x2="375.40000000000003" y2="7.8" stroke="#3a3a3a" stroke-width="1.4"/>
<line x1="374.95" y1="7.2" x2="374.95" y2="343.2" stroke="#2a2a2a" stroke-width="1.2"/>
<line x1="39.1" y1="7.1" x2="39.1" y2="343.2" stroke="#3a3a3a" stroke-width="1.4"/>
<line x1="38.4" y1="343.45" x2="375.5" y2="343.45" stroke="#222" stroke-width="1.15"/>
<line x1="82.89" y1="343.2" x2="82.89" y2="339.2" stroke="#3a3a3a" stroke-width="1.2"/>
<line x1="82.89" y1="7.8" x2="82.89" y2="11.8" stroke="#3a3a3a" stroke-width="1.2"/>
<line x1="39.1" y1="299.45" x2="43.1" y2="299.45" stroke="#3a3a3a" stroke-width="1.2"/>
<line x1="374.8" y1="299.45" x2="370.8" y2="299.45" stroke="#3a3a3a" stroke-width="1.2"/>
<line x1="155.87" y1="343.2" x2="155.87" y2="339.2" stroke="#3a3a3a" stroke-width="1.2"/>
<line x1="155.87" y1="7.8" x2="155.87" y2="11.8" stroke="#3a3a3a" stroke-width="1.2"/>
<line x1="39.1" y1="226.54" x2="43.1" y2="226.54" stroke="#3a3a3a" stroke-width="1.2"/>
<line x1="374.8" y1="226.54" x2="370.8" y2="226.54" stroke="#3a3a3a" stroke-width="1.2"/>
<line x1="228.84" y1="343.2" x2="228.84" y2="339.2" stroke="#3a3a3a" stroke-width="1.2"/>
<line x1="228.84" y1="7.8" x2="228.84" y2="11.8" stroke="#3a3a3a" stroke-width="1.2"/>
<line x1="39.1" y1="153.63" x2="43.1" y2="153.63" stroke="#3a3a3a" stroke-width="1.2"/>
<line x1="374.8" y1="153.63" x2="370.8" y2="153.63" stroke="#3a3a3a" stroke-width="1.2"/>
<line x1="301.82" y1="343.2" x2="301.82" y2="339.2" stroke="#3a3a3a" stroke-width="1.2"/>
<line x1="301.82" y1="7.8" x2="301.82" y2="11.8" stroke="#3a3a3a" stroke-width="1.2"/>
<line x1="39.1" y1="80.71" x2="43.1" y2="80.71" stroke="#3a3a3a" stroke-width="1.2"/>
<line x1="374.8" y1="80.71" x2="370.8" y2="80.71" stroke="#3a3a3a" stroke-width="1.2"/>
<text x="72.01" y="359.50" font-family='"Liberation Sans", sans-serif' font-size="14">−5</text>
<text x="152.27" y="359.50" font-family='"Liberation Sans", sans-serif' font-size="14">0</text>
<text x="225.15" y="359.50" font-family='"Liberation Sans", sans-serif' font-size="14">5</text>
<text x="294.94" y="359.50" font-family='"Liberation Sans", sans-serif' font-size="14"><tspan fill="transparent" stroke="none">1</tspan>0</text><path d="M299.63 349.66 V359.50" stroke="#000" stroke-width="1.29" fill="none"/><path d="M299.89 349.94 C297.95 350.64 297.04 351.76 296.13 352.04" stroke="#000" stroke-width="1.15" fill="none"/>
<text x="367.92" y="359.50" font-family='"Liberation Sans", sans-serif' font-size="14"><tspan fill="transparent" stroke="none">1</tspan>5</text><path d="M372.61 349.66 V359.50" stroke="#000" stroke-width="1.29" fill="none"/><path d="M372.86 349.94 C370.93 350.64 370.02 351.76 369.11 352.04" stroke="#000" stroke-width="1.15" fill="none"/>
<text x="16.54" y="305.35" font-family='"Liberation Sans", sans-serif' font-size="14">−5</text>
<text x="26.82" y="231.54" font-family='"Liberation Sans", sans-serif' font-size="14">0</text>
<text x="26.82" y="158.53" font-family='"Liberation Sans", sans-serif' font-size="14">5</text>
<text x="19.03" y="84.81" font-family='"Liberation Sans", sans-serif' font-size="14"><tspan fill="transparent" stroke="none">1</tspan>0</text><path d="M23.72 74.97 V84.81" stroke="#000" stroke-width="1.29" fill="none"/><path d="M23.98 75.26 C22.04 75.95 21.13 77.07 20.22 77.35" stroke="#000" stroke-width="1.15" fill="none"/>
<text x="19.03" y="11.80" font-family='"Liberation Sans", sans-serif' font-size="14"><tspan fill="transparent" stroke="none">1</tspan>5</text><path d="M23.72 1.96 V11.80" stroke="#000" stroke-width="1.29" fill="none"/><path d="M23.98 2.25 C22.04 2.94 21.13 4.06 20.22 4.34" stroke="#000" stroke-width="1.15" fill="none"/>
<text x="174.8" y="377.6" font-family='"Liberation Sans", sans-serif' font-size="14.5">NARR (m s</text>
<text x="249.2" y="372.6" font-family='"Liberation Sans", sans-serif' font-size="7.1">-</text>
<text x="252.1" y="372.6" font-family='"Liberation Sans", sans-serif' font-size="7.1">1</text>
<text x="256.3" y="377.6" font-family='"Liberation Sans", sans-serif' font-size="14.5">)</text>
<g transform="translate(12.4,206.1) rotate(-90)">
<text x="0" y="0" font-family='"Liberation Sans", sans-serif' font-size="14.5">MM5 (m s</text>
<text x="65.6" y="-5" font-family='"Liberation Sans", sans-serif' font-size="7.1">-</text>
<text x="68.5" y="-5" font-family='"Liberation Sans", sans-serif' font-size="7.1">1</text>
<text x="72.7" y="0" font-family='"Liberation Sans", sans-serif' font-size="14.5">)</text>
</g>
<defs><linearGradient id="jet" x1="0" x2="1" y1="0" y2="0">
<stop offset="0.0000" stop-color="#000080"/>
<stop offset="0.0156" stop-color="#00008f"/>
<stop offset="0.0312" stop-color="#00009f"/>
<stop offset="0.0469" stop-color="#0000af"/>
<stop offset="0.0625" stop-color="#0000bf"/>
<stop offset="0.0781" stop-color="#0000cf"/>
<stop offset="0.0938" stop-color="#0000df"/>
<stop offset="0.1094" stop-color="#0000ef"/>
<stop offset="0.1250" stop-color="#0000ff"/>
<stop offset="0.1406" stop-color="#0010ff"/>
<stop offset="0.1562" stop-color="#0020ff"/>
<stop offset="0.1719" stop-color="#0030ff"/>
<stop offset="0.1875" stop-color="#0040ff"/>
<stop offset="0.2031" stop-color="#0050ff"/>
<stop offset="0.2188" stop-color="#0060ff"/>
<stop offset="0.2344" stop-color="#0070ff"/>
<stop offset="0.2500" stop-color="#0080ff"/>
<stop offset="0.2656" stop-color="#008fff"/>
<stop offset="0.2812" stop-color="#009fff"/>
<stop offset="0.2969" stop-color="#00afff"/>
<stop offset="0.3125" stop-color="#00bfff"/>
<stop offset="0.3281" stop-color="#00cfff"/>
<stop offset="0.3438" stop-color="#00dfff"/>
<stop offset="0.3594" stop-color="#00efff"/>
<stop offset="0.3750" stop-color="#00ffff"/>
<stop offset="0.3906" stop-color="#10ffef"/>
<stop offset="0.4062" stop-color="#20ffdf"/>
<stop offset="0.4219" stop-color="#30ffcf"/>
<stop offset="0.4375" stop-color="#40ffbf"/>
<stop offset="0.4531" stop-color="#50ffaf"/>
<stop offset="0.4688" stop-color="#60ff9f"/>
<stop offset="0.4844" stop-color="#70ff8f"/>
<stop offset="0.5000" stop-color="#80ff80"/>
<stop offset="0.5156" stop-color="#8fff70"/>
<stop offset="0.5312" stop-color="#9fff60"/>
<stop offset="0.5469" stop-color="#afff50"/>
<stop offset="0.5625" stop-color="#bfff40"/>
<stop offset="0.5781" stop-color="#cfff30"/>
<stop offset="0.5938" stop-color="#dfff20"/>
<stop offset="0.6094" stop-color="#efff10"/>
<stop offset="0.6250" stop-color="#ffff00"/>
<stop offset="0.6406" stop-color="#ffef00"/>
<stop offset="0.6562" stop-color="#ffdf00"/>
<stop offset="0.6719" stop-color="#ffcf00"/>
<stop offset="0.6875" stop-color="#ffbf00"/>
<stop offset="0.7031" stop-color="#ffaf00"/>
<stop offset="0.7188" stop-color="#ff9f00"/>
<stop offset="0.7344" stop-color="#ff8f00"/>
<stop offset="0.7500" stop-color="#ff8000"/>
<stop offset="0.7656" stop-color="#ff7000"/>
<stop offset="0.7812" stop-color="#ff6000"/>
<stop offset="0.7969" stop-color="#ff5000"/>
<stop offset="0.8125" stop-color="#ff4000"/>
<stop offset="0.8281" stop-color="#ff3000"/>
<stop offset="0.8438" stop-color="#ff2000"/>
<stop offset="0.8594" stop-color="#ff1000"/>
<stop offset="0.8750" stop-color="#ff0000"/>
<stop offset="0.8906" stop-color="#ef0000"/>
<stop offset="0.9062" stop-color="#df0000"/>
<stop offset="0.9219" stop-color="#cf0000"/>
<stop offset="0.9375" stop-color="#bf0000"/>
<stop offset="0.9531" stop-color="#af0000"/>
<stop offset="0.9688" stop-color="#9f0000"/>
<stop offset="0.9844" stop-color="#8f0000"/>
<stop offset="1.0000" stop-color="#800000"/>
</linearGradient></defs>
<rect x="38.3" y="389.0" width="336.30" height="6.70" fill="url(#jet)" stroke="#1a1a1a" stroke-width="0.8"/>
<line x1="94.35" y1="389.0" x2="94.35" y2="391.5" stroke="#222" stroke-width="1"/>
<line x1="94.35" y1="395.7" x2="94.35" y2="393.2" stroke="#222" stroke-width="1"/>
<line x1="150.40" y1="389.0" x2="150.40" y2="391.5" stroke="#222" stroke-width="1"/>
<line x1="150.40" y1="395.7" x2="150.40" y2="393.2" stroke="#222" stroke-width="1"/>
<line x1="262.50" y1="389.0" x2="262.50" y2="391.5" stroke="#222" stroke-width="1"/>
<line x1="262.50" y1="395.7" x2="262.50" y2="393.2" stroke="#222" stroke-width="1"/>
<line x1="318.55" y1="389.0" x2="318.55" y2="391.5" stroke="#222" stroke-width="1"/>
<line x1="318.55" y1="395.7" x2="318.55" y2="393.2" stroke="#222" stroke-width="1"/>
<text x="27.72" y="410.90" font-family='"Liberation Sans", sans-serif' font-size="14">−2</text>
<text x="83.77" y="410.90" font-family='"Liberation Sans", sans-serif' font-size="14">−<tspan fill="transparent" stroke="none">1</tspan></text><path d="M96.64 401.06 V410.90" stroke="#000" stroke-width="1.29" fill="none"/><path d="M96.89 401.34 C94.96 402.04 94.05 403.16 93.14 403.44" stroke="#000" stroke-width="1.15" fill="none"/>
<text x="146.51" y="410.90" font-family='"Liberation Sans", sans-serif' font-size="14">0</text>
<text x="202.56" y="410.90" font-family='"Liberation Sans", sans-serif' font-size="14"><tspan fill="transparent" stroke="none">1</tspan></text><path d="M207.25 401.06 V410.90" stroke="#000" stroke-width="1.29" fill="none"/><path d="M207.51 401.34 C205.57 402.04 204.66 403.16 203.75 403.44" stroke="#000" stroke-width="1.15" fill="none"/>
<text x="258.61" y="410.90" font-family='"Liberation Sans", sans-serif' font-size="14">2</text>
<text x="314.66" y="410.90" font-family='"Liberation Sans", sans-serif' font-size="14">3</text>
<text x="370.71" y="410.90" font-family='"Liberation Sans", sans-serif' font-size="14">4</text>
<path d="M182.0 420.7 C183.4 419.3 185.8 418.6 188.4 418.6 C191.2 418.6 192.5 420.0 192.1 421.8 C191.6 424.0 189.2 425.3 186.3 425.4 C189.8 425.4 191.9 427.0 191.5 429.3 C191.0 431.7 188.3 432.8 185.4 432.8 L180.0 432.7 M184.7 419.0 C184.2 423.2 182.8 428.6 180.5 432.5" fill="none" stroke="#000" stroke-width="1.4" stroke-linecap="round" stroke-linejoin="round"/>
<text x="196.7" y="430.5" font-family='"Liberation Sans", sans-serif' font-size="14.5">(m s</text>
<text x="224.0" y="426.7" font-family='"Liberation Sans", sans-serif' font-size="7.1">-</text>
<text x="226.4" y="426.7" font-family='"Liberation Sans", sans-serif' font-size="7.1">2</text>
<text x="232.0" y="430.5" font-family='"Liberation Sans", sans-serif' font-size="14.5">)</text>
<text x="347.0" y="427.5" font-family='"Liberation Sans", sans-serif' font-size="11">x</text>
<text x="357.00" y="427.50" font-family='"Liberation Sans", sans-serif' font-size="11.3"><tspan fill="transparent" stroke="none">1</tspan>0</text><path d="M360.79 419.56 V427.50" stroke="#000" stroke-width="1.04" fill="none"/><path d="M360.99 419.79 C359.43 420.35 358.69 421.25 357.96 421.48" stroke="#000" stroke-width="0.93" fill="none"/>
<text x="371.5" y="423.9" font-family='"Liberation Sans", sans-serif' font-size="6.5">-</text>
<text x="373.2" y="424.0" font-family='"Liberation Sans", sans-serif' font-size="7.3">3</text>
</svg></body></html>
